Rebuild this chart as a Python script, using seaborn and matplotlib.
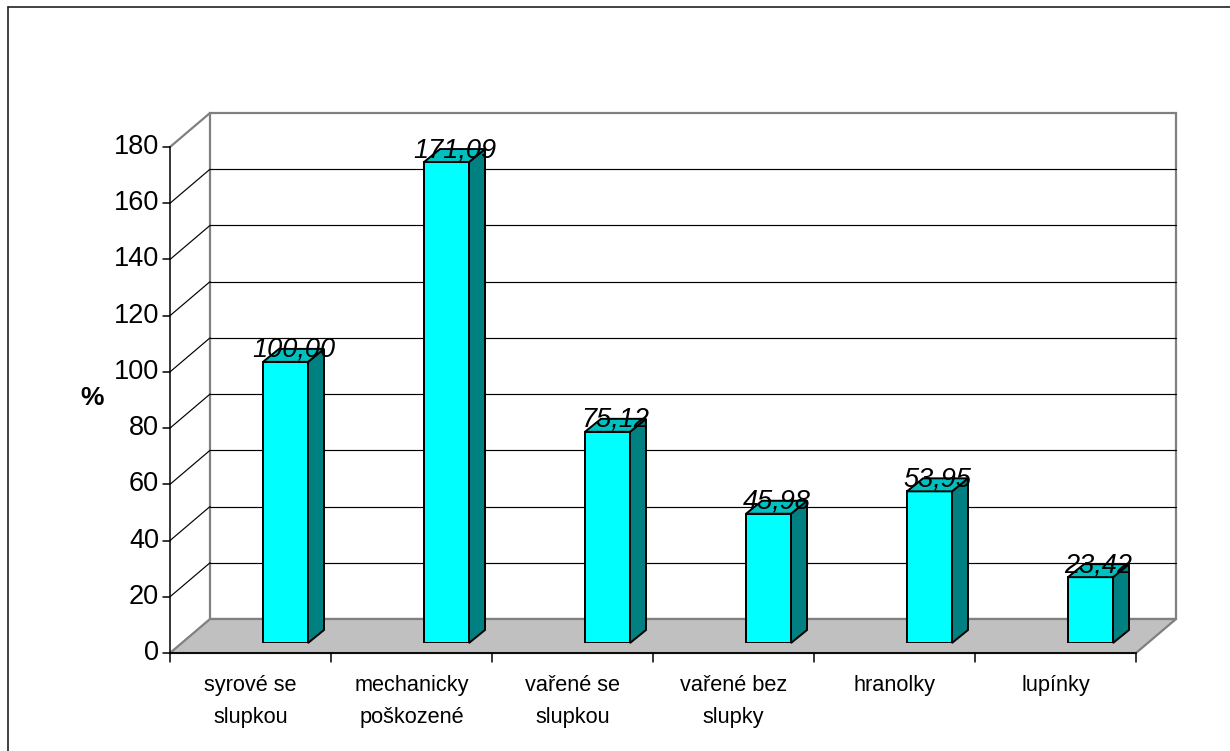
import matplotlib
matplotlib.use("Agg")
import matplotlib.pyplot as plt
from matplotlib.patches import Polygon
from matplotlib.lines import Line2D
import seaborn as sns
import pandas as pd

# Data
categories = ["syrové se\nslupkou", "mechanicky\npoškozené", "vařené se\nslupkou",
              "vařené bez\nslupky", "hranolky", "lupínky"]
values = [100.00, 171.09, 75.12, 45.98, 53.95, 23.42]
value_labels = ["100,00", "171,09", "75,12", "45,98", "53,95", "23,42"]
y_ticks = [0, 20, 40, 60, 80, 100, 120, 140, 160, 180]
y_label = "%"

sns.set_theme(style="white")
plt.rcParams["font.family"] = ["Liberation Sans", "DejaVu Sans"]

W, H, DPI = 1230, 751, 100
fig = plt.figure(figsize=(W / DPI, H / DPI), dpi=DPI)
fig.patch.set_facecolor("white")

# axes = plane of the bar fronts
ax = fig.add_axes([205 / W, 108 / H, 966 / W, 506 / H])
df = pd.DataFrame({"cat": categories, "val": values})
sns.barplot(data=df, x="cat", y="val", ax=ax, color="#00FFFF", saturation=1,
            edgecolor="black", linewidth=1.4, width=0.2795)
ax.set_xlim(-0.5, len(categories) - 0.5)
ax.set_ylim(0, 180)
ax.axis("off")

# pixel -> data unit factors for pseudo-3D offsets
PX = 1 / 161
PY = 180 / 506
FRONT = (-35, -10)   # front (axis) plane relative to bar plane, pixels
BACK = (5, 24)       # back wall relative to bar plane
SIDE = (16, 13)      # bar depth


def p(x, y, off=(0, 0)):
    return (x + off[0] * PX, y + off[1] * PY)


n = len(categories)
x0, x1 = -0.5, n - 0.5
GRAY = "#808080"

# back wall
ax.add_patch(Polygon([p(x0, 0, BACK), p(x1, 0, BACK), p(x1, 180, BACK), p(x0, 180, BACK)],
                     closed=True, facecolor="white", edgecolor=GRAY, lw=1.6,
                     clip_on=False, zorder=0.5))
# floor
ax.add_patch(Polygon([p(x0, 0, FRONT), p(x1, 0, FRONT), p(x1, 0, BACK), p(x0, 0, BACK)],
                     closed=True, facecolor="#C0C0C0", edgecolor=GRAY, lw=1.6,
                     clip_on=False, zorder=0.6))


def seg(a, b, **kw):
    ax.add_line(Line2D([a[0], b[0]], [a[1], b[1]], clip_on=False, **kw))


# gridlines on back wall + side wall diagonals
for v in y_ticks:
    if 0 < v < 180:
        seg(p(x0, v, BACK), p(x1, v, BACK), color="black", lw=0.85, zorder=0.7)
        seg(p(x0, v, FRONT), p(x0, v, BACK), color="black", lw=0.85, zorder=0.7)
seg(p(x0, 180, FRONT), p(x0, 180, BACK), color=GRAY, lw=1.6, zorder=0.7)

# front value axis with ticks and labels
seg(p(x0, 0, FRONT), p(x0, 180, FRONT), color="black", lw=1.1, zorder=0.8)
for v in y_ticks:
    seg(p(x0, v, FRONT), p(x0, v, (FRONT[0] - 7, FRONT[1])), color="black", lw=1.1, zorder=0.8)
    ax.text(*p(x0, v, (FRONT[0] - 11, FRONT[1])), str(v), ha="right", va="center",
            fontsize=19.5, color="black", zorder=5)

# front category axis
seg(p(x0, 0, FRONT), p(x1, 0, FRONT), color="black", lw=1.3, zorder=0.8)
for k in range(n + 1):
    seg(p(k - 0.5, 0, FRONT), p(k - 0.5, 0, (FRONT[0], FRONT[1] - 9)),
        color="black", lw=1.1, zorder=0.8)
for i, c in enumerate(categories):
    ax.text(*p(i, 0, (FRONT[0], FRONT[1] - 22)), c, ha="center", va="top",
            fontsize=15.7, linespacing=1.66, color="black", zorder=5)

# bar sides and tops
for bar, lab in zip(ax.patches, value_labels):
    bx, bw, bh = bar.get_x(), bar.get_width(), bar.get_height()
    bar.set_zorder(3)
    side = [p(bx + bw, 0), p(bx + bw, 0, SIDE), p(bx + bw, bh, SIDE), p(bx + bw, bh)]
    top = [p(bx, bh), p(bx + bw, bh), p(bx + bw, bh, SIDE), p(bx, bh, SIDE)]
    ax.add_patch(Polygon(side, closed=True, facecolor="#008080", edgecolor="black",
                         lw=1.4, clip_on=False, zorder=3))
    ax.add_patch(Polygon(top, closed=True, facecolor="#00C0C0", edgecolor="black",
                         lw=1.4, clip_on=False, zorder=3))
    ax.text(*p(bx + bw / 2, bh, (8, 5)), lab, ha="center", va="baseline",
            fontsize=19.5, style="italic", color="black", zorder=6)

# value-axis title
fig.text(92 / W, 1 - 398 / H, y_label, ha="center", va="center",
         fontsize=19, fontweight="bold", color="black")

# chart frame (top and left edges)
fig.add_artist(Line2D([8 / W, 1], [1 - 7 / H, 1 - 7 / H], transform=fig.transFigure,
                      color="#222222", lw=1.2))
fig.add_artist(Line2D([8 / W, 8 / W], [0, 1 - 7 / H], transform=fig.transFigure,
                      color="#222222", lw=1.2))

fig.savefig("out.png", dpi=DPI, facecolor="white")
